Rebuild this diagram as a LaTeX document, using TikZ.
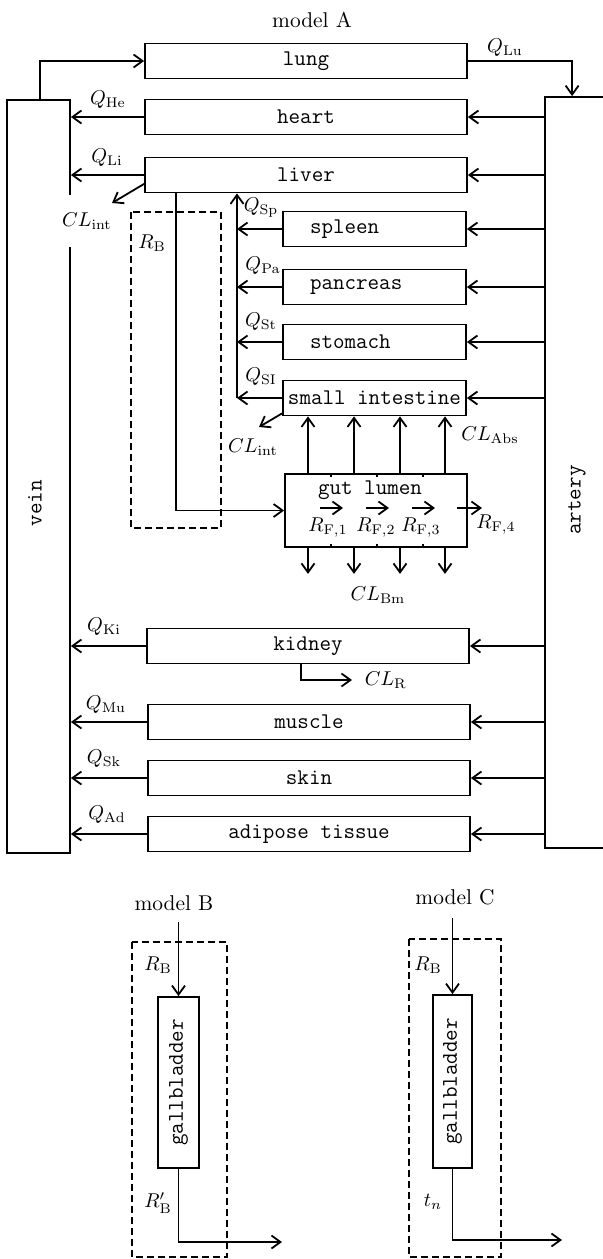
\documentclass[tikz,border=0pt]{standalone}
\usepackage{amsmath, amssymb}
\usepackage{tikz}
\usetikzlibrary{arrows.meta,calc}

\begin{document}
\begin{tikzpicture}[x=0.5pt, y=-0.5pt, line width=0.9pt,
    >={Straight Barb[length=4.5pt,width=6.5pt]},
    organ/.style={draw, minimum width=161pt, minimum height=17.5pt, inner sep=0pt, font=\fontsize{11.2}{13}\ttfamily},
    minor/.style={draw, minimum width=91.5pt, minimum height=17.5pt, inner xsep=13.5pt, inner ysep=0pt,
        text width=64.5pt, align=left, font=\fontsize{11.2}{13}\ttfamily},
    tube/.style={draw, inner sep=0pt},
    tt/.style={inner sep=0pt, font=\fontsize{11.2}{13}\ttfamily},
    lbl/.style={inner sep=1pt, font=\fontsize{10}{12}\selectfont},
    ttl/.style={font=\fontsize{10.7}{13}\selectfont},
    bag/.style={draw, dash pattern=on 3.5pt off 2pt, line width=0.8pt}]
    \useasboundingbox (0,0) rectangle (602,1259);

    % model A
    \node[ttl] (titleA) at (312,20) {model A};
    \node[tube, minimum width=31.5pt, minimum height=376.5pt] (vein) at (38.5,476.5) {};
    \node[tube, minimum width=33.5pt, minimum height=375.5pt] (artery) at (578.5,472.5) {};
    \node[tt, rotate=90] (veintxt) at (35,503) {vein};
    \node[tt, rotate=90] (arterytxt) at (577,500) {artery};

    \node[organ] (lung) at (306,61) {lung};
    \node[organ] (heart) at (306,117) {heart};
    \node[organ] (liver) at (306,175) {liver};
    \node[minor] (spleen) at (374.5,229) {spleen};
    \node[minor] (pancreas) at (374.5,287) {pancreas};
    \node[minor] (stomach) at (374.5,342) {stomach};
    \node[organ, minimum width=91.5pt] (smallint) at (374.5,398) {small intestine};
    \node[tube, minimum width=91pt, minimum height=36.5pt] (gut) at (376,510.5) {};
    \node[tt] (guttxt) at (370,490) {gut lumen};
    \node[organ] (kidney) at (308,646) {kidney};
    \node[organ] (muscle) at (309,722) {muscle};
    \node[organ] (skin) at (309,778) {skin};
    \node[organ] (adipose) at (309,834) {adipose tissue};

    % lung loop
    \draw[->] ([xshift=17pt]vein.north west) |- (lung.west);
    \draw[->] (lung.east) -| ([xshift=14pt]artery.north west);
    \node[lbl] (qlu) at (505,48) {\(Q_{\mathrm{Lu}}\)};

    % artery to organs
    \draw[->] (heart.east -| artery.west) -- (heart.east);
    \draw[->] (liver.east -| artery.west) -- (liver.east);
    \draw[->] (spleen.east -| artery.west) -- (spleen.east);
    \draw[->] (pancreas.east -| artery.west) -- (pancreas.east);
    \draw[->] (stomach.east -| artery.west) -- (stomach.east);
    \draw[->] (smallint.east -| artery.west) -- (smallint.east);
    \draw[->] (kidney.east -| artery.west) -- (kidney.east);
    \draw[->] (muscle.east -| artery.west) -- (muscle.east);
    \draw[->] (skin.east -| artery.west) -- (skin.east);
    \draw[->] (adipose.east -| artery.west) -- (adipose.east);

    % organs to vein
    \draw[->] (heart.west) -- (heart.west -| vein.east);
    \draw[->] (liver.west) -- (liver.west -| vein.east);
    \draw[->] (kidney.west) -- (kidney.west -| vein.east);
    \draw[->] (muscle.west) -- (muscle.west -| vein.east);
    \draw[->] (skin.west) -- (skin.west -| vein.east);
    \draw[->] (adipose.west) -- (adipose.west -| vein.east);
    \node[lbl] (qhe) at (108,100) {\(Q_{\mathrm{He}}\)};
    \node[lbl] (qli) at (107,158) {\(Q_{\mathrm{Li}}\)};
    \node[lbl] (qki) at (104,627) {\(Q_{\mathrm{Ki}}\)};
    \node[lbl] (qmu) at (106,705) {\(Q_{\mathrm{Mu}}\)};
    \node[lbl] (qsk) at (104,759) {\(Q_{\mathrm{Sk}}\)};
    \node[lbl] (qad) at (107,815) {\(Q_{\mathrm{Ad}}\)};

    % portal collector into liver
    \coordinate (bus) at (237,398);
    \draw[->] (bus) -- (bus |- liver.south);
    \draw[->] (spleen.west) -- (spleen.west -| bus);
    \draw[->] (pancreas.west) -- (pancreas.west -| bus);
    \draw[->] (stomach.west) -- (stomach.west -| bus);
    \draw[->] (smallint.west) -- (bus);
    \node[lbl] (qsp) at (261,208) {\(Q_{\mathrm{Sp}}\)};
    \node[lbl] (qpa) at (263,266) {\(Q_{\mathrm{Pa}}\)};
    \node[lbl] (qst) at (261,322) {\(Q_{\mathrm{St}}\)};
    \node[lbl] (qsi) at (261,377) {\(Q_{\mathrm{SI}}\)};

    % intrinsic clearance
    \node[lbl, fill=white, inner xsep=0.5pt, minimum height=26pt] (clint1txt) at (87,221) {\(CL_{\mathrm{int}}\)};
    \coordinate (clint1) at (112,203);
    \draw[->] ([yshift=4.75pt]liver.south west) -- (clint1);
    \coordinate (clint2) at (259,427);
    \draw[->] ([yshift=1.5pt]smallint.south west) -- (clint2);
    \node[lbl] (clint2txt) at (253,447) {\(CL_{\mathrm{int}}\)};

    % bile
    \draw[bag] (131,212) rectangle (221,528);
    \node[lbl] (rbA) at (152,243) {\(R_{\mathrm{B}}\)};
    \coordinate (bile) at (176,0);
    \draw[->] (bile |- liver.south) |- (gut.west);

    % gut lumen
    \coordinate (g1) at (308,0); \coordinate (g2) at (354,0);
    \coordinate (g3) at (400,0); \coordinate (g4) at (445,0);
    \draw[->] (g1 |- gut.north) -- (g1 |- smallint.south);
    \draw[->] (g2 |- gut.north) -- (g2 |- smallint.south);
    \draw[->] (g3 |- gut.north) -- (g3 |- smallint.south);
    \draw[->] (g4 |- gut.north) -- (g4 |- smallint.south);
    \draw[->] (g1 |- gut.south) -- ++(0,26);
    \draw[->] (g2 |- gut.south) -- ++(0,26);
    \draw[->] (g3 |- gut.south) -- ++(0,26);
    \draw[->] (g4 |- gut.south) -- ++(0,26);
    \coordinate (t1) at (331,0); \coordinate (t2) at (377,0); \coordinate (t3) at (423,0);
    \draw (t1 |- gut.north) -- ++(0,4); \draw (t1 |- gut.south) -- ++(0,-4);
    \draw (t2 |- gut.north) -- ++(0,4); \draw (t2 |- gut.south) -- ++(0,-4);
    \draw (t3 |- gut.north) -- ++(0,4); \draw (t3 |- gut.south) -- ++(0,-4);
    \draw[->] (320,508) -- (343,508);
    \draw[->] (366,508) -- (389,508);
    \draw[->] (412,508) -- (435,508);
    \draw[->] (457,508) -- (482,508);
    \node[lbl] (rf1) at (328,528) {\(R_{\mathrm{F},1}\)};
    \node[lbl] (rf2) at (376,528) {\(R_{\mathrm{F},2}\)};
    \node[lbl] (rf3) at (421,528) {\(R_{\mathrm{F},3}\)};
    \node[lbl] (rf4) at (496,525) {\(R_{\mathrm{F},4}\)};
    \node[lbl] (clabs) at (490,435) {\(CL_{\mathrm{Abs}}\)};
    \node[lbl] (clbm) at (378,595) {\(CL_{\mathrm{Bm}}\)};

    % renal clearance
    \coordinate (clr) at (352,680);
    \draw[->] ([xshift=-3.5pt]kidney.south) |- (clr);
    \node[lbl, anchor=west] (clrtxt) at (362,680) {\(CL_{\mathrm{R}}\)};

    % model B
    \node[ttl] (titleB) at (174,903) {model B};
    \draw[bag] (132,942) rectangle (227,1257);
    \node[tube, minimum width=20.5pt, minimum height=85.5pt] (gallB) at (178.5,1082.5) {};
    \node[tt, rotate=90] (gallBtxt) at (gallB) {gallbladder};
    \coordinate (inB) at (178.5,922);
    \coordinate (outB) at (282,1242);
    \draw[->] (inB) -- (gallB.north);
    \draw[->] (gallB.south) |- (outB);
    \node[lbl] (rbB) at (158,965) {\(R_{\mathrm{B}}\)};
    \node[lbl] (rbpB) at (158,1203) {\(R'_{\mathrm{B}}\)};

    % model C
    \node[ttl] (titleC) at (455,897) {model C};
    \draw[bag] (409,939) rectangle (501,1257);
    \node[tube, minimum width=19.5pt, minimum height=86.5pt] (gallC) at (452.5,1081.5) {};
    \node[tt, rotate=90] (gallCtxt) at (gallC) {gallbladder};
    \coordinate (inC) at (452.5,918);
    \coordinate (outC) at (562,1240);
    \draw[->] (inC) -- (gallC.north);
    \draw[->] (gallC.south) |- (outC);
    \node[lbl] (rbC) at (428,965) {\(R_{\mathrm{B}}\)};
    \node[lbl] (tnC) at (433,1202) {\(t_n\)};
\end{tikzpicture}
\end{document}
